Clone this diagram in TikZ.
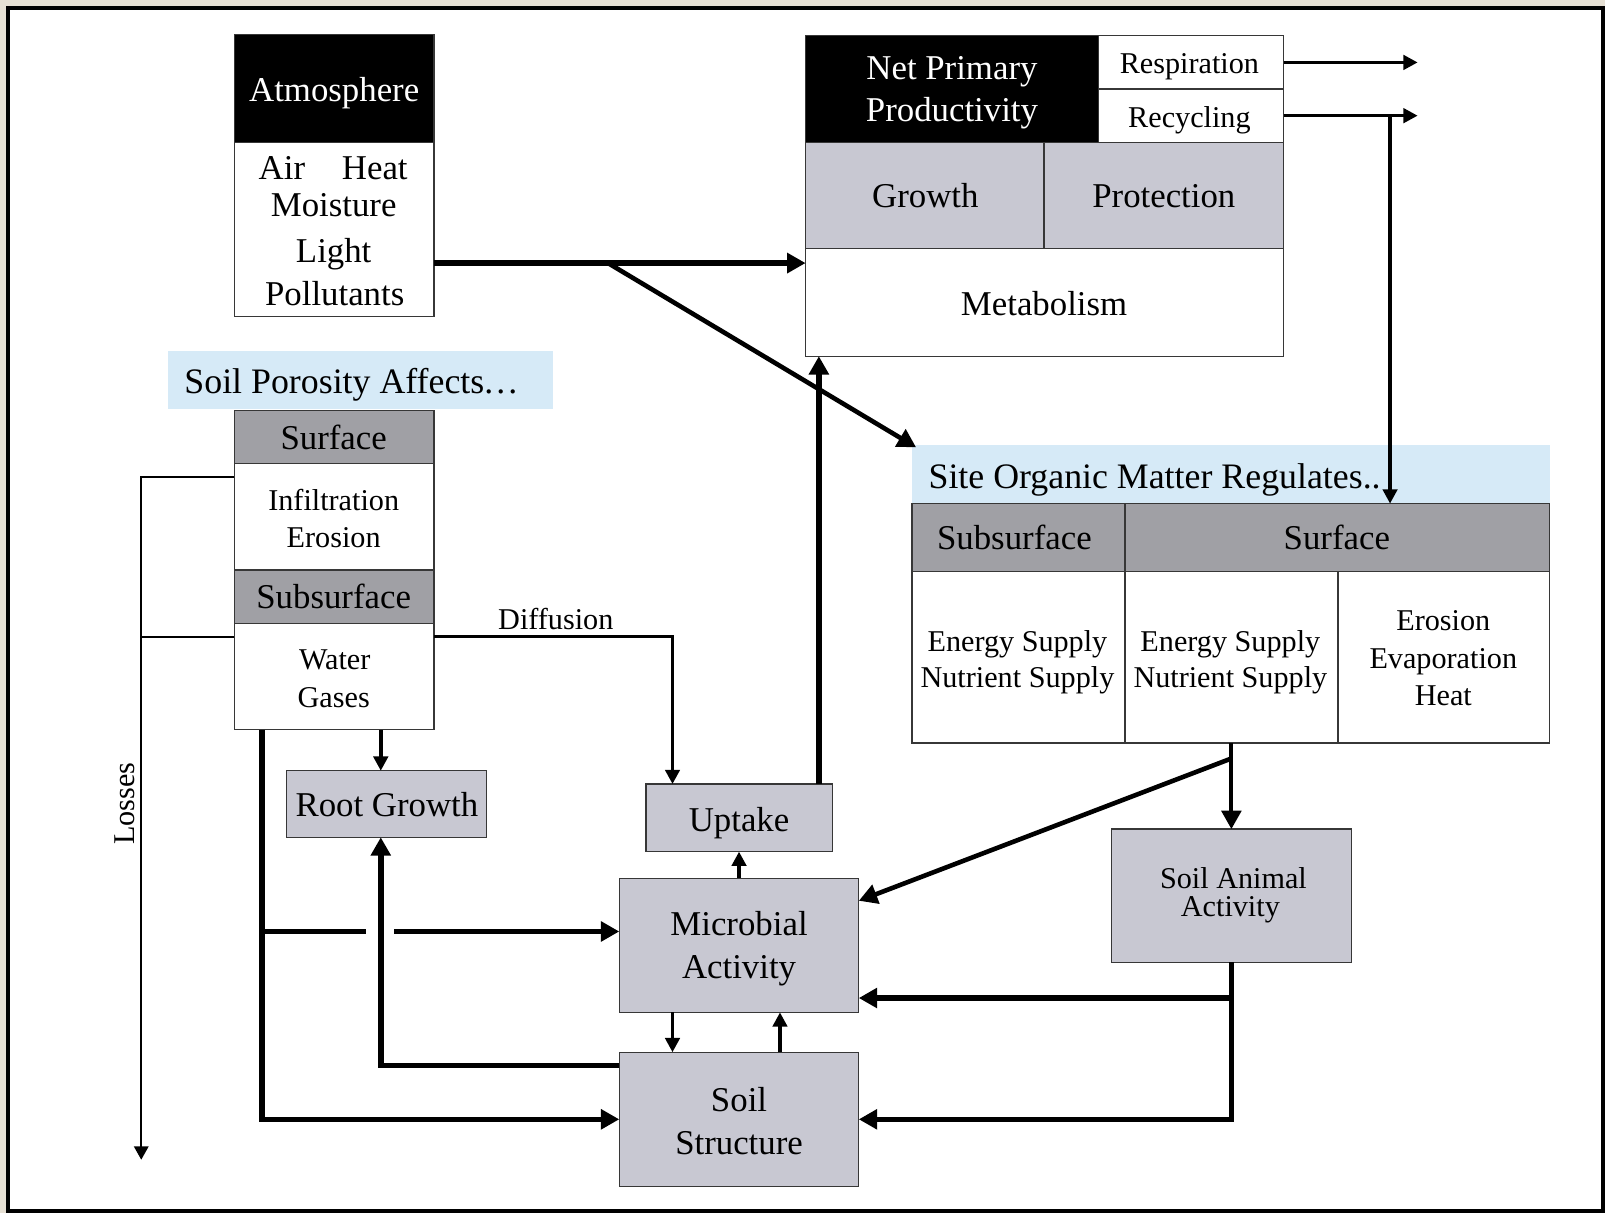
\documentclass[tikz,border=0pt]{standalone}
\usepackage{fontspec}
\setmainfont{Liberation Serif}
\usetikzlibrary{arrows.meta}
\definecolor{beige}{RGB}{230,224,212}
\definecolor{boxgray}{RGB}{200,200,210}
\definecolor{hdrgray}{RGB}{160,160,165}
\definecolor{lblue}{RGB}{214,234,247}
\definecolor{edge}{RGB}{55,55,55}
\begin{document}
\begin{tikzpicture}[x=1pt,y=-1pt,
  box/.style={draw=edge,line width=1.3pt,inner sep=0pt,outer sep=0pt},
  band/.style={fill=lblue,inner sep=0pt,outer sep=0pt},
  B/.style={font=\fontsize{34}{40}\selectfont,anchor=base,yshift=-10.9pt,inner sep=0pt},
  BL/.style={font=\fontsize{35}{40}\selectfont,anchor=base west,yshift=-11.2pt,inner sep=0pt},
  S/.style={font=\fontsize{29.5}{34}\selectfont,anchor=base,yshift=-9.4pt,inner sep=0pt},
  thk/.style={line width=5.5pt},
  mid/.style={line width=3.5pt},
  thn/.style={line width=2pt},
  tipA/.style={-{Triangle[length=18pt,width=19pt]}},
  tipB/.style={-{Triangle[length=14pt,width=14pt]}},
  tipC/.style={-{Triangle[length=13pt,width=14pt]}}]
\useasboundingbox (0,0) rectangle (1568,1185);
\fill[beige] (0,0) rectangle (1568,1185);
\fill[black] (6,6) rectangle (1568,1185);
\fill[white] (10,10) rectangle (1564,1181);

% Atmosphere
\node[box,fill=white,minimum width=195pt,minimum height=275pt] (atm) at (326.5,171.5) {};
\node[box,fill=black,minimum width=195pt,minimum height=105pt] (atmhdr) at (326.5,86.5) {};

% NPP block
\node[box,fill=black,minimum width=286pt,minimum height=104pt] (npphdr) at (930,87) {};
\node[box,fill=white,minimum width=181pt,minimum height=52pt] (resp) at (1163.5,61) {};
\node[box,fill=white,minimum width=181pt,minimum height=52pt] (recy) at (1163.5,113) {};
\node[box,fill=boxgray,minimum width=233pt,minimum height=104pt] (growth) at (903.5,191) {};
\node[box,fill=boxgray,minimum width=234pt,minimum height=104pt] (prot) at (1137,191) {};
\node[box,fill=white,minimum width=467pt,minimum height=105pt] (met) at (1020.5,295.5) {};

% Soil porosity column
\node[band,minimum width=376pt,minimum height=57pt] (spband) at (352,371.5) {};
\node[box,fill=hdrgray,minimum width=195pt,minimum height=52pt] (surfL) at (326.5,427) {};
\node[box,fill=white,minimum width=195pt,minimum height=104pt] (infil) at (326.5,505) {};
\node[box,fill=hdrgray,minimum width=195pt,minimum height=52pt] (subL) at (326.5,583) {};
\node[box,fill=white,minimum width=195pt,minimum height=104pt] (water) at (326.5,661) {};

% Site organic matter table
\node[band,minimum width=623pt,minimum height=57pt] (site) at (1202.5,463.5) {};
\node[box,fill=hdrgray,minimum width=208pt,minimum height=66pt] (subT) at (995,525) {};
\node[box,fill=hdrgray,minimum width=415pt,minimum height=66pt] (surfT) at (1306.5,525) {};
\node[box,fill=white,minimum width=208pt,minimum height=168pt] (c1) at (995,642) {};
\node[box,fill=white,minimum width=208pt,minimum height=168pt] (c2) at (1203,642) {};
\node[box,fill=white,minimum width=207pt,minimum height=168pt] (c3) at (1410.5,642) {};

% lower boxes
\node[box,fill=boxgray,minimum width=195pt,minimum height=65pt] (root) at (377.5,785.5) {};
\node[box,fill=boxgray,minimum width=182pt,minimum height=66pt] (uptake) at (722,799) {};
\node[box,fill=boxgray,minimum width=234pt,minimum height=131pt] (micro) at (722,923.5) {};
\node[box,fill=boxgray,minimum width=234pt,minimum height=131pt] (sstruct) at (722,1093.5) {};
\node[box,fill=boxgray,minimum width=234pt,minimum height=130pt] (sanimal) at (1203,875) {};

% texts
\node[B,white] (tAtm) at (326.5,88) {Atmosphere};
\node[B] (tAir) at (325.5,164) {Air\hspace{36pt}Heat};
\node[B] (tMoist) at (326,201) {Moisture};
\node[B] (tLight) at (326,246) {Light};
\node[B] (tPoll) at (327,288) {Pollutants};
\node[B,white] (tNet) at (930,67) {Net Primary};
\node[B,white] (tProd) at (930,108) {Productivity};
\node[S] (tResp) at (1162,62) {Respiration};
\node[S] (tRecy) at (1162,115) {Recycling};
\node[B] (tGrow) at (904,192) {Growth};
\node[B] (tProt) at (1137,192) {Protection};
\node[B] (tMet) at (1020,297) {Metabolism};
\node[BL] (tSPA) at (180,373) {Soil Porosity Affects.\kern3pt.\kern3pt.};
\node[B] (tSurfL) at (326,428) {Surface};
\node[S] (tInf) at (326,489) {Infiltration};
\node[S] (tEro) at (326,525) {Erosion};
\node[B] (tSubL) at (326,584) {Subsurface};
\node[S] (tWat) at (327,645) {Water};
\node[S] (tGas) at (326,682) {Gases};
\node[S] (tDiff) at (543,606) {Diffusion};
\node[font=\fontsize{29.5}{34}\selectfont,rotate=90,inner sep=0pt] (tLoss) at (122,785) {Losses};
\node[B] (tRoot) at (378,787) {Root Growth};
\node[B] (tUpt) at (722,801) {Uptake};
\node[B] (tMic) at (722,903) {Microbial};
\node[B] (tAct) at (722,945) {Activity};
\node[B] (tSoil) at (722,1075) {Soil};
\node[B] (tStr) at (722,1117) {Structure};
\node[BL] (tSite) at (907,466) {Site Organic Matter Regulates..};
\node[B] (tSubT) at (991,526) {Subsurface};
\node[B] (tSurfT) at (1306,526) {Surface};
\node[S] (tE1) at (994,627) {Energy Supply};
\node[S] (tN1) at (994,662) {Nutrient Supply};
\node[S] (tE2) at (1202,627) {Energy Supply};
\node[S] (tN2) at (1202,662) {Nutrient Supply};
\node[S] (tEr) at (1410,607) {Erosion};
\node[S] (tEv) at (1410,644) {Evaporation};
\node[S] (tHt) at (1410,680) {Heat};
\node[S] (tSA) at (1205,859) {Soil Animal};
\node[S] (tSA2) at (1202,886) {Activity};

% connectors
\coordinate (respend) at (1385,61);
\coordinate (recyend) at (1385,113);
\coordinate (recyturn) at (1358,113);
\coordinate (dstart) at (594,257);
\coordinate (dend) at (895,437);
\coordinate (lossend) at (138,1133);
\coordinate (dstart2) at (1203,741);

\draw[mid,tipB] (resp.east) -- (respend);
\draw[mid,tipB] (recy.east) -- (recyend);
\draw[mid,tipB] (recyturn) -- (surfT.north -| recyturn);
\draw[thk,tipA] (atm.east |- 0,257) -- (met.west |- 0,257);
\draw[line width=4.5pt,tipA] (dstart) -- (dend);
\draw[thk,tipA] (uptake.north -| 800,0) -- (met.south -| 800,0);

\draw[thn,tipC] (infil.west |- 0,466) -| (lossend);
\draw[thn] (water.west |- 0,622) -- (lossend |- 0,622);
\draw[mid,tipB] (water.east |- 0,622) -| ([xshift=-65pt]uptake.north);
\draw[mid,tipB] (water.south -| 372,0) -- (root.north -| 372,0);

\draw[thk,tipA] (water.south -| 256,0) |- (sstruct.west);
\draw[thk] (256,910) -- (358,910);
\draw[thk,tipA] (385,910) -- (micro.west |- 0,910);
\draw[thk,tipA] (sstruct.west |- 0,1041) -| (root.south -| 372,0);

\draw[mid,tipB] (micro.south -| 657,0) -- (sstruct.north -| 657,0);
\draw[mid,tipB] (sstruct.north -| 762,0) -- (micro.south -| 762,0);
\draw[mid,tipB] (micro.north) -- (uptake.south);

\draw[line width=4pt,tipA] (c2.south) -- (sanimal.north);
\draw[line width=4.5pt,tipA] (dstart2) -- (micro.east |- 0,880);
\draw[thk,tipA] (sanimal.south) |- (sstruct.east);
\draw[thk,tipA] (sanimal.south |- 0,975) -- (micro.east |- 0,975);
\end{tikzpicture}
\end{document}
